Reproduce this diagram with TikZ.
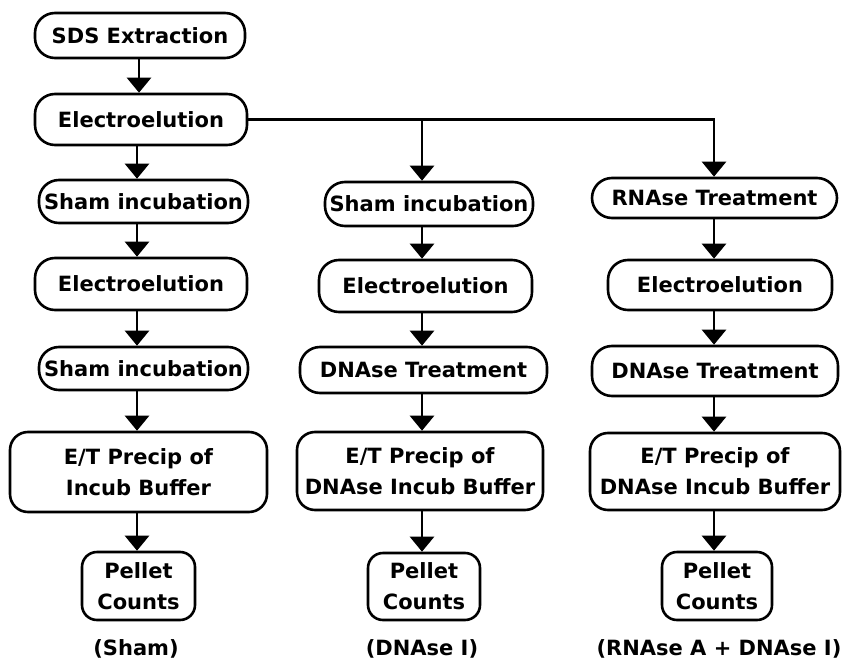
\documentclass[tikz,border=0pt]{standalone}
\usepackage{fontspec}
\setmainfont{DejaVu Sans}
\usetikzlibrary{arrows.meta}
\tikzset{
  box/.style={draw, line width=2.6pt, rounded corners=20pt, align=center, inner sep=0pt,
    font=\bfseries\fontsize{21}{31}\selectfont},
  lab/.style={align=center, inner sep=0pt, font=\bfseries\fontsize{21}{31}\selectfont},
  arr/.style={line width=2.6pt, -{Triangle[width=24pt,length=15pt]}},
  ln/.style={line width=2.6pt}
}
\begin{document}
\begin{tikzpicture}[x=1pt,y=-1pt]
\useasboundingbox (0,0) rectangle (845,663);
\coordinate (c1) at (137,0);
\coordinate (c2) at (422,0);
\coordinate (c3) at (714,0);
% column 1
\node[box, minimum width=210pt, minimum height=45pt] (sds) at (140,35.5) {SDS Extraction};
\node[box, minimum width=212pt, minimum height=51pt] (el1) at (141,119.5) {Electroelution};
\node[box, minimum width=209pt, minimum height=43pt] (sh1) at (143.5,201.5) {Sham incubation};
\node[box, minimum width=212pt, minimum height=52pt] (el2) at (141,284) {Electroelution};
\node[box, minimum width=209pt, minimum height=43pt] (sh2) at (143.5,368.5) {Sham incubation};
\node[box, minimum width=257pt, minimum height=80pt, rounded corners=18pt] (et1) at (138.5,472) {E/T Precip of\\Incub Buffer};
\node[box, minimum width=113pt, minimum height=68pt, rounded corners=15pt] (pc1) at (138.5,586) {Pellet\\Counts};
\node[lab] (l1) at (136,649) {(Sham)};
% column 2
\node[box, minimum width=208pt, minimum height=44pt] (sh3) at (429,204) {Sham incubation};
\node[box, minimum width=213pt, minimum height=52pt] (el3) at (425.5,286) {Electroelution};
\node[box, minimum width=247pt, minimum height=46pt] (dn2) at (423.5,370) {DNAse Treatment};
\node[box, minimum width=246pt, minimum height=78pt, rounded corners=18pt] (et2) at (420,471) {E/T Precip of\\DNAse Incub Buffer};
\node[box, minimum width=112pt, minimum height=67pt, rounded corners=15pt] (pc2) at (424,586.5) {Pellet\\Counts};
\node[lab] (l2) at (422,649) {(DNAse I)};
% column 3
\node[box, minimum width=245pt, minimum height=40pt] (rn3) at (714.5,198) {RNAse Treatment};
\node[box, minimum width=224pt, minimum height=50pt] (el4) at (720,285) {Electroelution};
\node[box, minimum width=246pt, minimum height=50pt] (dn3) at (715,371) {DNAse Treatment};
\node[box, minimum width=250pt, minimum height=77pt, rounded corners=18pt] (et3) at (715,471.5) {E/T Precip of\\DNAse Incub Buffer};
\node[box, minimum width=110pt, minimum height=68pt, rounded corners=15pt] (pc3) at (717,586) {Pellet\\Counts};
\node[lab] (l3) at (719,649) {(RNAse A + DNAse I)};
% arrows column 1
\draw[arr] (sds.south -| 139,0) -- (el1.north -| 139,0);
\draw[arr] (el1.south -| c1) -- (sh1.north -| c1);
\draw[arr] (sh1.south -| c1) -- (el2.north -| c1);
\draw[arr] (el2.south -| c1) -- (sh2.north -| c1);
\draw[arr] (sh2.south -| c1) -- (et1.north -| c1);
\draw[arr] (et1.south -| c1) -- (pc1.north -| c1);
% branches
\draw[arr] (el1.east) -| (rn3.north -| c3);
\draw[arr] (el1.east -| c2) -- (sh3.north -| c2);
% column 2
\draw[arr] (sh3.south -| c2) -- (el3.north -| c2);
\draw[arr] (el3.south -| c2) -- (dn2.north -| c2);
\draw[arr] (dn2.south -| c2) -- (et2.north -| c2);
\draw[arr] (et2.south -| c2) -- (pc2.north -| c2);
% column 3
\draw[arr] (rn3.south -| c3) -- (el4.north -| c3);
\draw[arr] (el4.south -| c3) -- (dn3.north -| c3);
\draw[arr] (dn3.south -| c3) -- (et3.north -| c3);
\draw[arr] (et3.south -| c3) -- (pc3.north -| c3);
\end{tikzpicture}
\end{document}
